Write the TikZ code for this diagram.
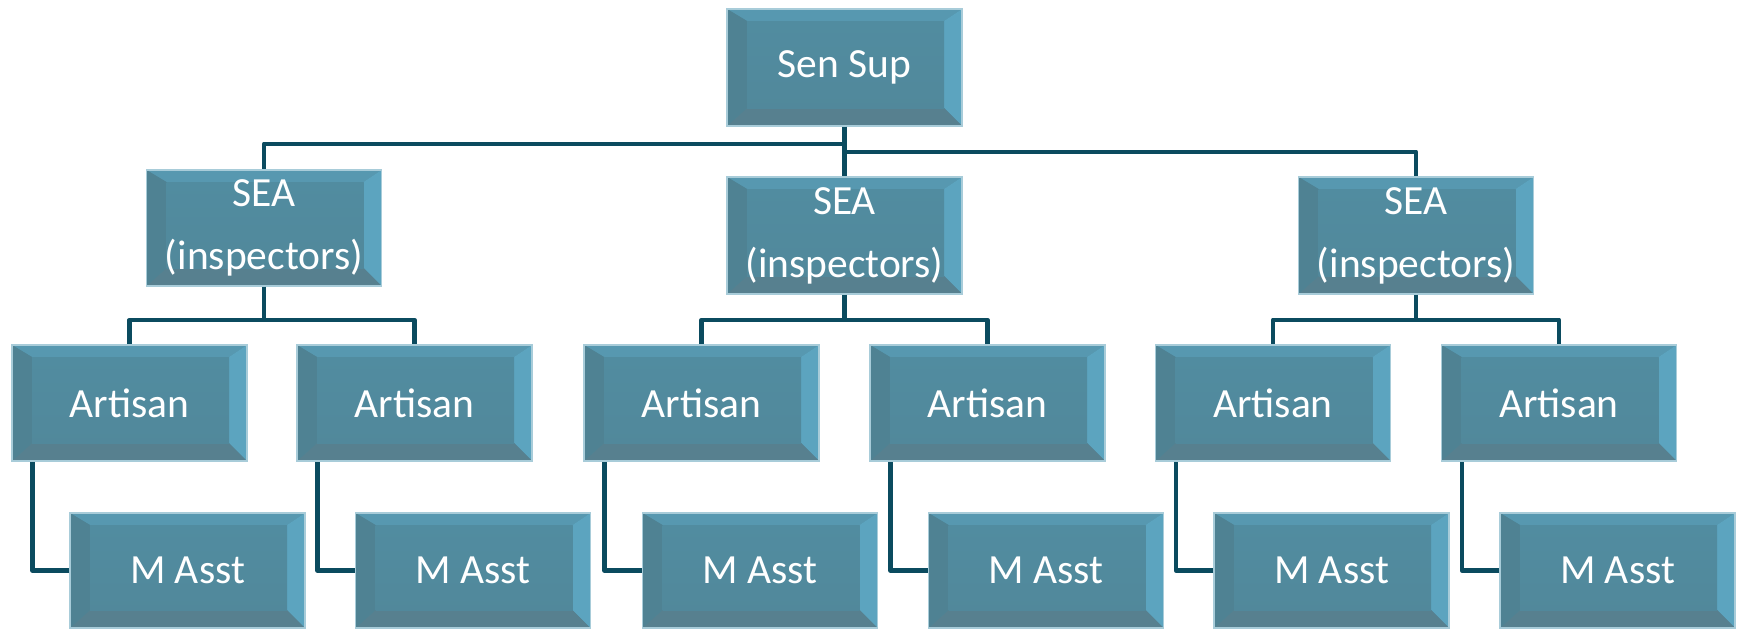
\documentclass[tikz,border=0pt]{standalone}
\usepackage{fontspec}
\setmainfont{Carlito}
\definecolor{linec}{HTML}{0B4B5F}
\definecolor{facec}{HTML}{50899C}
\definecolor{topc}{HTML}{5798B0}
\definecolor{rightc}{HTML}{5CA4BF}
\definecolor{leftc}{HTML}{4F8293}
\definecolor{botc}{HTML}{57808F}
\definecolor{edgec}{HTML}{A8CCD9}
\newcommand\bevelfill{%
  \path (path picture bounding box.north west) coordinate (bnw)
        (path picture bounding box.north east) coordinate (bne)
        (path picture bounding box.south east) coordinate (bse)
        (path picture bounding box.south west) coordinate (bsw);
  \coordinate (inw) at ([shift={(20pt,-12pt)}]bnw);
  \coordinate (ine) at ([shift={(-18pt,-12pt)}]bne);
  \coordinate (ise) at ([shift={(-18pt,18pt)}]bse);
  \coordinate (isw) at ([shift={(20pt,18pt)}]bsw);
  \fill[topc]   (bnw) -- (bne) -- (ine) -- (inw) -- cycle;
  \fill[rightc] (bne) -- (bse) -- (ise) -- (ine) -- cycle;
  \fill[botc]   (bse) -- (bsw) -- (isw) -- (ise) -- cycle;
  \fill[leftc]  (bsw) -- (bnw) -- (inw) -- (isw) -- cycle;
  \shade[top color=facec!80!topc, bottom color=facec!92!botc] (inw) rectangle (ise);}
\tikzset{
  box/.style={draw=edgec, line width=1.5pt, fill=facec, text=white, inner sep=0pt,
    minimum width=235pt, minimum height=116pt, align=center,
    font=\fontsize{41.5pt}{63pt}\selectfont, path picture={\bevelfill}},
  conn/.style={draw=linec, line width=4.5pt, line join=round},
}
\begin{document}
\begin{tikzpicture}[x=1pt,y=-1pt]
        \useasboundingbox (0,0) rectangle (1737,629);
        % top and inspectors
        \node[box, minimum height=117pt] (sen)  at (844.5,67.5)  {Sen Sup};
        \node[box] (seaL) at (264,228)     {SEA\\(inspectors)};
        \node[box, minimum height=117pt] (seaM) at (844.5,235.5) {SEA\\(inspectors)};
        \node[box, minimum height=117pt] (seaR) at (1416,235.5)  {SEA\\(inspectors)};
        % artisans
        \node[box] (artA) at (129.5,403)  {Artisan};
        \node[box] (artB) at (414.5,403)  {Artisan};
        \node[box] (artC) at (701.5,403)  {Artisan};
        \node[box] (artD) at (987.5,403)  {Artisan};
        \node[box] (artE) at (1273,403)   {Artisan};
        \node[box] (artF) at (1559,403)   {Artisan};
        % assistants
        \node[box, minimum height=115pt] (astA) at (187.5,570.5)  {M Asst};
        \node[box, minimum height=115pt] (astB) at (473,570.5)    {M Asst};
        \node[box, minimum height=115pt] (astC) at (760,570.5)    {M Asst};
        \node[box, minimum height=115pt] (astD) at (1046,570.5)   {M Asst};
        \node[box, minimum height=115pt] (astE) at (1331.5,570.5) {M Asst};
        \node[box, minimum height=115pt] (astF) at (1617.5,570.5) {M Asst};
        % connectors
        \draw[conn] (sen.south) -- (seaM.north);
        \draw[conn] (sen.south) -- ++(0,17) -| (seaL.north);
        \draw[conn] (sen.south) -- ++(0,25) -| (seaR.north);
        \draw[conn] (seaL.south) -- ++(0,33) -| (artA.north);
        \draw[conn] (seaL.south) -- ++(0,33) -| (artB.north);
        \draw[conn] (seaM.south) -- ++(0,25) -| (artC.north);
        \draw[conn] (seaM.south) -- ++(0,25) -| (artD.north);
        \draw[conn] (seaR.south) -- ++(0,25) -| (artE.north);
        \draw[conn] (seaR.south) -- ++(0,25) -| (artF.north);
        \draw[conn] (astA.west) -| ([xshift=21pt]artA.south west);
        \draw[conn] (astB.west) -| ([xshift=21pt]artB.south west);
        \draw[conn] (astC.west) -| ([xshift=21pt]artC.south west);
        \draw[conn] (astD.west) -| ([xshift=21pt]artD.south west);
        \draw[conn] (astE.west) -| ([xshift=21pt]artE.south west);
        \draw[conn] (astF.west) -| ([xshift=21pt]artF.south west);
\end{tikzpicture}
\end{document}
